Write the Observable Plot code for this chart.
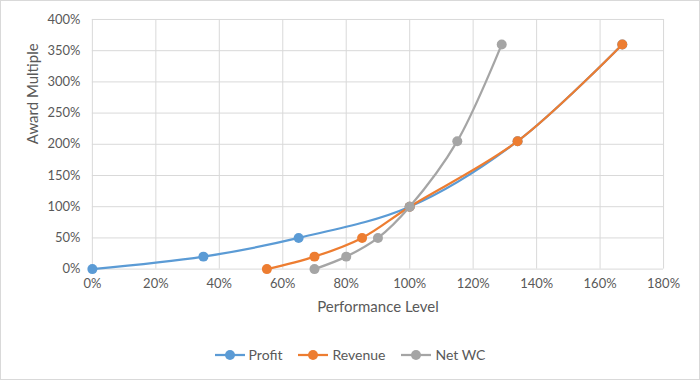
<!DOCTYPE html>
<html>
<head>
<meta charset="utf-8">
<script src="https://cdn.jsdelivr.net/npm/d3@7"></script>
<script src="https://cdn.jsdelivr.net/npm/@observablehq/plot@0.6"></script>
<style>
  html, body { margin: 0; padding: 0; background: #fff; }
  #wrap { position: relative; width: 698px; height: 378px; border: 1px solid #d9d9d9; overflow: hidden; }
  #chart { position: absolute; left: -1px; top: -1px; }
  #legend { position: absolute; left: 0; top: 345px; width: 698px; display: flex; justify-content: center; gap: 16px;
            font-family: Lato, "Open Sans", sans-serif; font-size: 14px; color: #595959; }
  .item { display: flex; align-items: center; gap: 4px; }
</style>
</head>
<body>
<div id="wrap"><div id="chart"></div><div id="legend"></div></div>
<script>
const seriesNames = ["Profit", "Revenue", "Net WC"];
const colors = ["#5B9BD5", "#ED7D31", "#A5A5A5"];
const profitX = [0, 35, 65, 100, 134, 167];
const profitY = [0, 20, 50, 100, 205, 360];
const revenueX = [55, 70, 85, 100, 134, 167];
const revenueY = [0, 20, 50, 100, 205, 360];
const netwcX = [70, 80, 90, 100, 115, 129];
const netwcY = [0, 20, 50, 100, 205, 360];
const xTicks = [0, 20, 40, 60, 80, 100, 120, 140, 160, 180];
const yTicks = [0, 50, 100, 150, 200, 250, 300, 350, 400];

const toRows = (name, xs, ys) => xs.map((x, i) => ({series: name, x, y: ys[i]}));
const series = [
  toRows("Profit", profitX, profitY),
  toRows("Revenue", revenueX, revenueY),
  toRows("Net WC", netwcX, netwcY)
];

const marks = [
  Plot.ruleX(xTicks, {stroke: "#d9d9d9", strokeWidth: 1}),
  Plot.ruleY(yTicks, {stroke: "#d9d9d9", strokeWidth: 1}),
  Plot.axisX(xTicks, {tickSize: 0, tickPadding: 10, tickFormat: d => d + "%", label: null, fontSize: 13, fill: "#595959"}),
  Plot.axisY(yTicks, {tickSize: 0, tickPadding: 12, tickFormat: d => d + "%", label: null, fontSize: 13, fill: "#595959"}),
  Plot.text(["Performance Level"], {frameAnchor: "bottom", dy: 43, fontSize: 15, fill: "#595959"}),
  Plot.text(["Award Multiple"], {frameAnchor: "left", dx: -59, rotate: -90, fontSize: 15, fill: "#595959"})
];
series.forEach((rows, i) => {
  marks.push(Plot.line(rows, {x: "x", y: "y", stroke: colors[i], strokeWidth: 2.25, curve: "catmull-rom"}));
  marks.push(Plot.dot(rows, {x: "x", y: "y", fill: colors[i], r: 5}));
});

const plot = Plot.plot({
  width: 700,
  height: 380,
  marginLeft: 92,
  marginRight: 36,
  marginTop: 19,
  marginBottom: 111,
  style: {fontFamily: "Lato, 'Open Sans', sans-serif", background: "transparent", overflow: "visible"},
  x: {domain: [0, 180]},
  y: {domain: [0, 400]},
  marks
});
document.getElementById("chart").appendChild(plot);

const legend = document.getElementById("legend");
seriesNames.forEach((n, i) => {
  const el = document.createElement("div");
  el.className = "item";
  el.innerHTML = `<svg width="30" height="12"><line x1="0" y1="6" x2="30" y2="6" stroke="${colors[i]}" stroke-width="2.25"/><circle cx="15" cy="6" r="5" fill="${colors[i]}"/></svg><span>${n}</span>`;
  legend.appendChild(el);
});
</script>
</body>
</html>
